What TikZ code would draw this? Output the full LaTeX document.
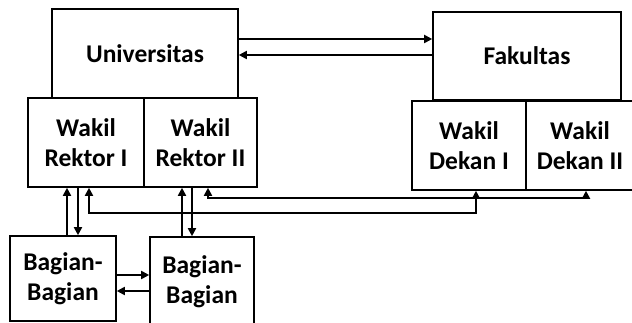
\documentclass[tikz,border=0pt]{standalone}
\usepackage{fontspec}
\setmainfont{Carlito}
\usetikzlibrary{arrows.meta}
\begin{document}
\begin{tikzpicture}[x=1pt,y=-1pt,
  box/.style={draw, line width=1.6pt, inner sep=0pt, align=center,
    font=\fontsize{25.5}{30}\selectfont\bfseries},
  arr/.style={line width=1.8pt, -{Triangle[length=8pt,width=8pt]}},
  dbl/.style={line width=1.8pt, {Triangle[length=8pt,width=8pt]}-{Triangle[length=8pt,width=8pt]}}]
\useasboundingbox (0,0) rectangle (632,323);
\clip (0,0) rectangle (632,323);
% top level boxes
\node[box, minimum width=186pt, minimum height=89pt] (univ) at (145,53.5) {Universitas};
\node[box, minimum width=188pt, minimum height=88pt] (fak) at (527,56) {Fakultas};
% deputies
\node[box, minimum width=116pt, minimum height=89pt] (rI) at (86,142.5) {Wakil\\Rektor I};
\node[box, minimum width=113pt, minimum height=89pt] (rII) at (200.5,142.5) {Wakil\\Rektor II};
\node[box, minimum width=114pt, minimum height=89pt] (dI) at (469,145.5) {Wakil\\Dekan I};
\node[box, minimum width=108pt, minimum height=89pt] (dII) at (580,145.5) {Wakil\\Dekan II};
% sections
\node[box, minimum width=106pt, minimum height=85pt] (bagA) at (63,278.5) {Bagian-\\Bagian};
\node[box, minimum width=104pt, minimum height=89pt] (bagB) at (202,281.5) {Bagian-\\Bagian};
% connector guides
\coordinate (ya) at (0,39);
\coordinate (yb) at (0,55);
\coordinate (x1) at (67,0);
\coordinate (x2) at (78,0);
\coordinate (x3) at (89,0);
\coordinate (x4) at (182,0);
\coordinate (x5) at (192,0);
\coordinate (x6) at (208,0);
\coordinate (x7) at (476,0);
\coordinate (x8) at (586,0);
\coordinate (low1) at (0,213);
\coordinate (low2) at (0,198);
\coordinate (yc) at (0,275);
\coordinate (yd) at (0,291);
% university <-> faculty
\draw[arr] (univ.east |- ya) -- (fak.west |- ya);
\draw[arr] (fak.west |- yb) -- (univ.east |- yb);
% deputies <-> sections
\draw[arr] (x1 |- bagA.north) -- (x1 |- rI.south);
\draw[arr] (x2 |- rI.south) -- (x2 |- bagA.north);
\draw[arr] (x4 |- bagB.north) -- (x4 |- rII.south);
\draw[arr] (x5 |- rII.south) -- (x5 |- bagB.north);
% sections <-> sections
\draw[arr] (bagA.east |- yc) -- (bagB.west |- yc);
\draw[arr] (bagB.west |- yd) -- (bagA.east |- yd);
% rector deputies <-> dean deputies
\draw[dbl] (x3 |- rI.south) -- (x3 |- low1) -| (x7 |- dI.south);
\draw[dbl] (x6 |- rII.south) -- (x6 |- low2) -| (x8 |- dII.south);
\end{tikzpicture}
\end{document}
